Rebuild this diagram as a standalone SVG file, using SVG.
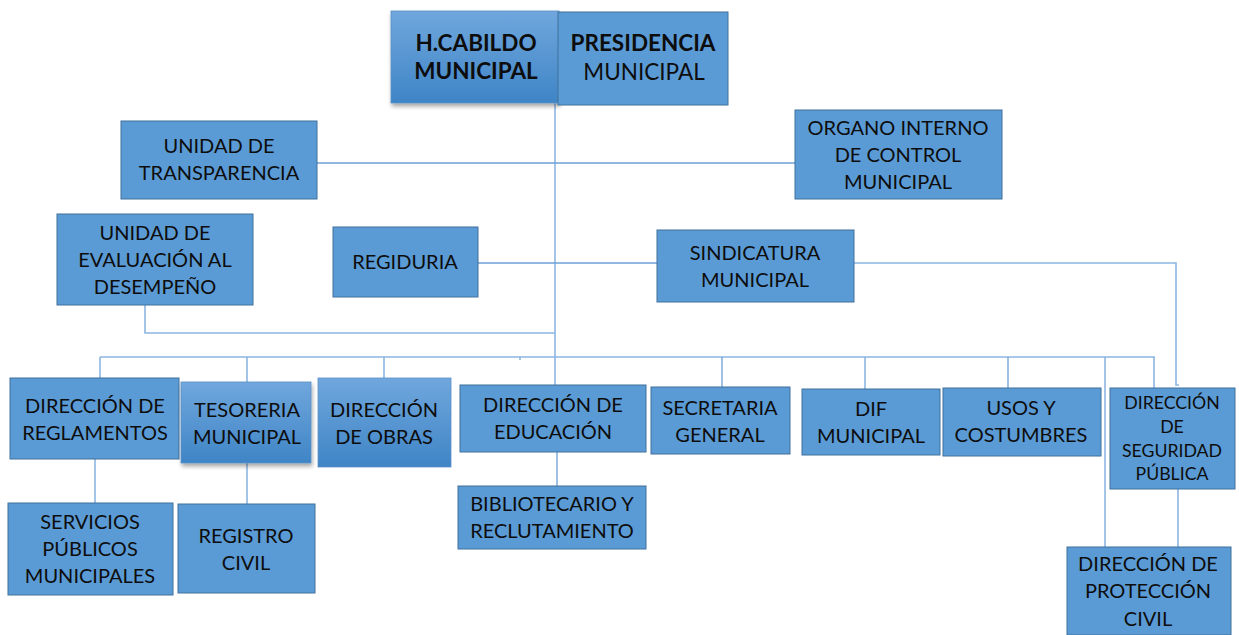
<svg xmlns="http://www.w3.org/2000/svg" width="1239" height="635" viewBox="0 0 1239 635">
<defs>
<linearGradient id="grad" x1="0" y1="0" x2="0" y2="1">
<stop offset="0" stop-color="#70A7DD"/>
<stop offset="1" stop-color="#3F85C6"/>
</linearGradient>
<filter id="sh" x="-10%" y="-10%" width="125%" height="130%">
<feDropShadow dx="1" dy="3" stdDeviation="2" flood-color="#000" flood-opacity="0.35"/>
</filter>
</defs>
<style>
.box{fill:#5B9BD5;stroke:#41719C;stroke-width:1}
.gbox{fill:url(#grad);stroke:#5B8FC6;stroke-width:0.8;filter:url(#sh)}
.t{font-family:Lato,"Liberation Sans",sans-serif;font-size:20px;fill:#0D0D0D;text-anchor:middle}
.b{font-weight:bold;font-size:22.5px}
.s{font-size:17.7px}
.ln{fill:none;stroke:#8DB6E2;stroke-width:1.6}
.ld{fill:none;stroke:#6E9FD6;stroke-width:1.3}
</style>
<rect width="1239" height="635" fill="#FFFFFF"/>
<g id="connectors">
<path class="ln" d="M555 103 V385"/>
<path class="ld" d="M317 163 H795"/>
<path class="ld" d="M478 263 H657"/>
<path class="ln" d="M854 263 H1176 V385 H1179"/>
<path class="ln" d="M145 305 V333 H555"/>
<path class="ln" d="M100 357 H1155"/>
<path class="ln" d="M100 357 V378"/>
<path class="ln" d="M247 357 V382"/>
<path class="ln" d="M384 357 V378"/>
<path class="ld" d="M722 357 V387"/>
<path class="ln" d="M865 357 V389"/>
<path class="ld" d="M1008 357 V388"/>
<path class="ln" d="M1154 357 V388"/>
<path class="ln" d="M1105 357 V547"/>
<path class="ln" d="M520 357 V360"/>
<path class="ln" d="M95 459 V503"/>
<path class="ln" d="M247 463 V504"/>
<path class="ld" d="M557 452 V486"/>
<path class="ln" d="M1178 489 V547"/>
</g>
<g id="cabildo">
<rect class="gbox" x="391" y="11" width="168" height="92"/>
<text class="t b" x="476" y="51">H.CABILDO</text>
<text class="t b" x="476" y="79">MUNICIPAL</text>
</g>
<g id="presidencia">
<rect class="box" x="558" y="12" width="170" height="93"/>
<text class="t b" x="643" y="51">PRESIDENCIA</text>
<text class="t" x="644" y="80" style="font-size:22.5px">MUNICIPAL</text>
</g>
<g id="transparencia">
<rect class="box" x="121" y="121" width="196" height="78"/>
<text class="t" x="219" y="153">UNIDAD DE</text>
<text class="t" x="219" y="180">TRANSPARENCIA</text>
</g>
<g id="organo">
<rect class="box" x="795" y="110" width="207" height="89"/>
<text class="t" x="898" y="135">ORGANO INTERNO</text>
<text class="t" x="898" y="162">DE CONTROL</text>
<text class="t" x="898" y="189">MUNICIPAL</text>
</g>
<g id="evaluacion">
<rect class="box" x="57" y="214" width="196" height="91"/>
<text class="t" x="155" y="240">UNIDAD DE</text>
<text class="t" x="155" y="267">EVALUACIÓN AL</text>
<text class="t" x="155" y="294">DESEMPEÑO</text>
</g>
<g id="regiduria">
<rect class="box" x="333" y="227" width="145" height="70"/>
<text class="t" x="405" y="269">REGIDURIA</text>
</g>
<g id="sindicatura">
<rect class="box" x="657" y="230" width="197" height="72"/>
<text class="t" x="755" y="260">SINDICATURA</text>
<text class="t" x="755" y="287">MUNICIPAL</text>
</g>
<g id="reglamentos">
<rect class="box" x="10" y="378" width="169" height="81"/>
<text class="t" x="95" y="413">DIRECCIÓN DE</text>
<text class="t" x="95" y="440">REGLAMENTOS</text>
</g>
<g id="tesoreria">
<rect class="gbox" x="181" y="382" width="130" height="81"/>
<text class="t" x="247" y="417">TESORERIA</text>
<text class="t" x="247" y="444">MUNICIPAL</text>
</g>
<g id="obras">
<rect class="gbox" x="318" y="378" width="133" height="89" style="filter:none"/>
<text class="t" x="384" y="417">DIRECCIÓN</text>
<text class="t" x="384" y="444">DE OBRAS</text>
</g>
<g id="educacion">
<rect class="box" x="460" y="385" width="186" height="67"/>
<text class="t" x="553" y="412">DIRECCIÓN DE</text>
<text class="t" x="553" y="439">EDUCACIÓN</text>
</g>
<g id="secretaria">
<rect class="box" x="651" y="387" width="139" height="67"/>
<text class="t" x="720" y="415">SECRETARIA</text>
<text class="t" x="720" y="442">GENERAL</text>
</g>
<g id="dif">
<rect class="box" x="802" y="389" width="138" height="66"/>
<text class="t" x="871" y="416">DIF</text>
<text class="t" x="871" y="443">MUNICIPAL</text>
</g>
<g id="usos">
<rect class="box" x="943" y="388" width="158" height="68"/>
<text class="t" x="1021" y="415">USOS Y</text>
<text class="t" x="1021" y="442">COSTUMBRES</text>
</g>
<g id="seguridad">
<rect class="box" x="1110" y="388" width="125" height="101"/>
<text class="t s" x="1172" y="409">DIRECCIÓN</text>
<text class="t s" x="1172" y="433">DE</text>
<text class="t s" x="1172" y="457">SEGURIDAD</text>
<text class="t s" x="1172" y="480">PÚBLICA</text>
</g>
<g id="servicios">
<rect class="box" x="8" y="503" width="165" height="92"/>
<text class="t" x="90" y="529">SERVICIOS</text>
<text class="t" x="90" y="556">PÚBLICOS</text>
<text class="t" x="90" y="583">MUNICIPALES</text>
</g>
<g id="registro">
<rect class="box" x="178" y="504" width="137" height="89"/>
<text class="t" x="246" y="543">REGISTRO</text>
<text class="t" x="246" y="570">CIVIL</text>
</g>
<g id="bibliotecario">
<rect class="box" x="458" y="486" width="188" height="63"/>
<text class="t" x="552" y="511">BIBLIOTECARIO Y</text>
<text class="t" x="552" y="538">RECLUTAMIENTO</text>
</g>
<g id="proteccion">
<rect class="box" x="1067" y="547" width="164" height="88"/>
<text class="t" x="1148" y="571">DIRECCIÓN DE</text>
<text class="t" x="1148" y="598">PROTECCIÓN</text>
<text class="t" x="1148" y="626">CIVIL</text>
</g>
</svg>
